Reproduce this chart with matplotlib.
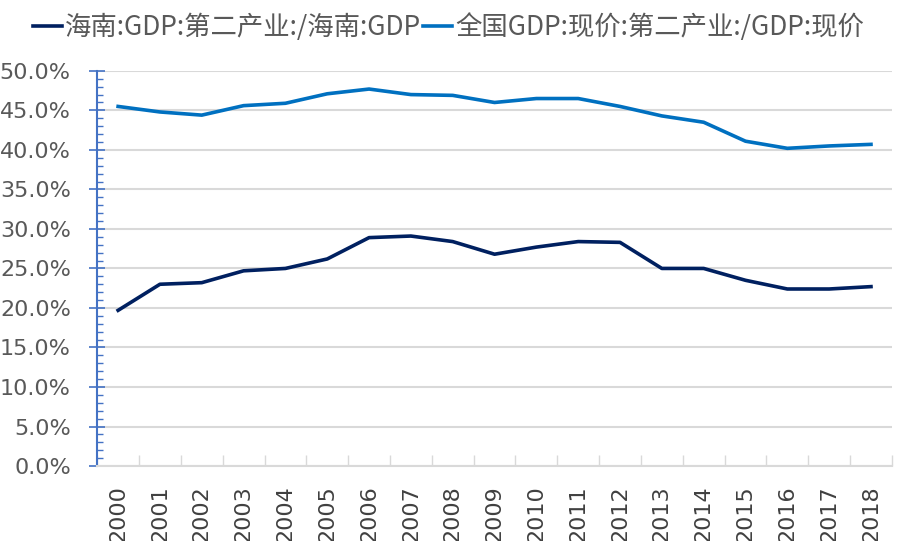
import matplotlib
matplotlib.use('Agg')
import matplotlib.pyplot as plt
from matplotlib.ticker import MultipleLocator, FuncFormatter, FixedLocator
import numpy as np

plt.rcParams['font.family'] = ['Noto Sans CJK SC', 'DejaVu Sans']

years = [str(y) for y in range(2000, 2019)]
hainan = [19.7, 23.0, 23.2, 24.7, 25.0, 26.2, 28.9, 29.1, 28.4, 26.8,
          27.7, 28.4, 28.3, 25.0, 25.0, 23.5, 22.4, 22.4, 22.7]
national = [45.5, 44.8, 44.4, 45.6, 45.9, 47.1, 47.7, 47.0, 46.9, 46.0,
            46.5, 46.5, 45.5, 44.3, 43.5, 41.1, 40.2, 40.5, 40.7]
labels = ['海南:GDP:第二产业:/海南:GDP', '全国GDP:现价:第二产业:/GDP:现价']

fig = plt.figure(figsize=(9, 5.41), dpi=100)
ax = fig.add_axes([0.108, 0.1386, 0.883, 0.7304])

x = np.arange(len(years))
ax.plot(x, np.array(hainan) / 100, color='#002060', lw=2.6, label=labels[0])
ax.plot(x, np.array(national) / 100, color='#0070C0', lw=2.6, label=labels[1])

ax.set_xlim(-0.5, len(years) - 0.5)
ax.set_ylim(0, 0.5)
ax.yaxis.set_major_locator(MultipleLocator(0.05))
ax.yaxis.set_minor_locator(MultipleLocator(0.01))
ax.yaxis.set_major_formatter(FuncFormatter(lambda v, p: f'{v*100:.1f}%'))
ax.grid(axis='y', color='#D9D9D9', lw=1.5)
ax.set_axisbelow(True)

ax.set_xticks(x)
ax.set_xticklabels(years, rotation=90, fontsize=16, color='#404040',
                   family='DejaVu Sans')
ax.xaxis.set_minor_locator(FixedLocator(np.arange(-0.5, len(years), 1)))
ax.tick_params(axis='x', which='major', length=0, pad=14)
ax.tick_params(axis='x', which='minor', direction='in', length=8,
               color='#D9D9D9', width=1)

ax.tick_params(axis='y', which='major', direction='inout', length=12,
               color='#4472C4', width=1.2, labelsize=16, labelcolor='#595959', pad=13)
ax.tick_params(axis='y', which='minor', direction='in', length=4,
               color='#4472C4', width=1)
for lab in ax.get_yticklabels():
    lab.set_family('DejaVu Sans')

for s in ['top', 'right']:
    ax.spines[s].set_visible(False)
ax.spines['left'].set_color('#4472C4')
ax.spines['left'].set_linewidth(1.5)
ax.spines['bottom'].set_color('#D9D9D9')
ax.spines['bottom'].set_linewidth(1.5)

fig.legend(loc='upper left', bbox_to_anchor=(0.01, 1.02), ncol=2, frameon=False,
           fontsize=19, handlelength=1.1, handletextpad=0.1, columnspacing=0.1,
           labelcolor='#595959')

fig.savefig('out.png', dpi=100)
